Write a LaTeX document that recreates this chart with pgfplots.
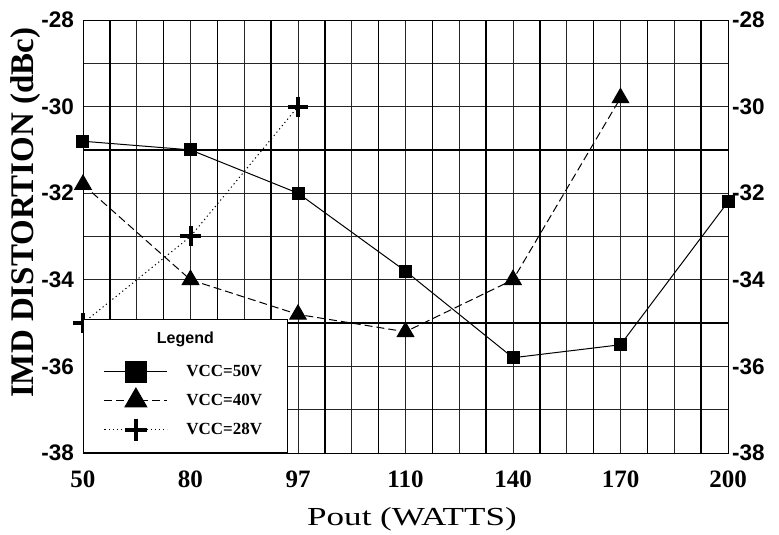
\documentclass[border=0pt]{standalone}
\usepackage{fontspec}
\setmainfont{Liberation Serif}
\newfontfamily\arialf{Liberation Sans}
\newfontfamily\widef[FakeStretch=1.35]{Liberation Serif}
\usepackage{pgfplots}
\pgfplotsset{compat=1.18}
\begin{document}
\begin{tikzpicture}
\useasboundingbox (-83pt,-82pt) rectangle (696pt,453pt);
\begin{axis}[
 at={(0pt,0pt)}, anchor=south west,
 scale only axis, width=645pt, height=433pt,
 xmin=0, xmax=6, ymin=-38, ymax=-28,
 clip=false,
 xtick={0,1,2,3,4,5,6}, xticklabels={50,80,97,110,140,170,200},
 ytick={-38,-36,-34,-32,-30,-28}, yticklabels={-38,-36,-34,-32,-30,-28},
 minor xtick={0.5,1.5,2.5,3.5,4.5,5.5},
 minor ytick={-37,-35,-33,-31,-29},
 extra x ticks={0.25,0.75,1.25,1.75,2.25,2.75,3.25,3.75,4.25,4.75,5.25,5.75},
 extra x tick labels={},
 extra y ticks={-35,-31}, extra y tick labels={},
 extra x tick style={grid=major, major grid style={line width=1.6pt, black}},
 extra y tick style={grid=major, major grid style={line width=1.6pt, black}},
 grid=both,
 major grid style={line width=0.8pt, black!85},
 minor grid style={line width=0.8pt, black!85},
 major tick length=0pt, minor tick length=0pt,
 axis line style={line width=0.8pt},
 xticklabel style={anchor=base, yshift=-35pt, inner sep=0pt, font=\bfseries\fontsize{25}{25}\selectfont},
 yticklabel style={anchor=east, inner sep=0pt, xshift=-9pt, font=\arialf\bfseries\fontsize{22.5}{22.5}\selectfont},
 xlabel={Pout (WATTS)},
 xlabel style={at={(axis description cs:0.51,0)}, anchor=base, yshift=-72pt, inner sep=0pt, font=\widef\fontsize{26}{26}\selectfont},
 ylabel={IMD DISTORTION (dBc)},
 ylabel style={at={(axis description cs:-0.0884,0.555)}, anchor=center, inner sep=0pt, font=\bfseries\fontsize{33}{33}\selectfont},
 legend image code/.code={
   \path[draw=none,fill=none] (0pt,-14.5pt) rectangle (103pt,14.5pt);
   \draw[mark repeat=2,mark phase=2,#1] plot coordinates {(21pt,0pt) (52.5pt,0pt) (84pt,0pt)};
 },
 legend style={at={(0,0)}, anchor=south west, draw=black, line width=0.8pt, fill=white,
   inner xsep=0pt, inner ysep=8.5pt, row sep=0pt,
   nodes={inner sep=0pt, text width=101pt, align=left, line width=0.8pt},
   font=\bfseries\fontsize{17}{17}\selectfont,
   label={[anchor=base, inner sep=0pt, yshift=-24pt, font=\arialf\bfseries\fontsize{16}{16}\selectfont]north:Legend}},
 legend cell align=left,
]
\addlegendimage{empty legend}
\addlegendentry{\rule[-15.5pt]{0pt}{43pt}}
\addplot[black, line width=1pt, mark=square*, mark size=6pt, mark options={solid},
  legend image post style={mark size=10.5pt}]
  coordinates {(0,-30.8)(1,-31.0)(2,-32.0)(3,-33.8)(4,-35.8)(5,-35.5)(6,-32.2)};
\addlegendentry{VCC=50V}
\addplot[black, line width=1pt, dash pattern=on 8pt off 4pt, mark=triangle*, mark size=9.5pt, mark options={solid},
  legend image post style={mark size=12.5pt}]
  coordinates {(0,-31.8)(1,-34.0)(2,-34.8)(3,-35.2)(4,-34.0)(5,-29.8)};
\addlegendentry{VCC=40V}
\addplot[black, line width=1pt, dash pattern=on 1.2pt off 3pt, mark=+, mark size=10pt, mark options={solid, line width=4pt},
  legend image post style={mark size=11pt}]
  coordinates {(0,-35.0)(1,-33.0)(2,-30.0)};
\addlegendentry{VCC=28V}
\end{axis}
\begin{axis}[
 at={(0pt,0pt)}, anchor=south west,
 scale only axis, width=645pt, height=433pt,
 xmin=0, xmax=6, ymin=-38, ymax=-28,
 hide x axis, axis y line*=right,
 ytick={-38,-36,-34,-32,-30,-28}, yticklabels={-38,-36,-34,-32,-30,-28},
 major tick length=0pt,
 y axis line style={line width=0.8pt},
 yticklabel style={anchor=west, inner sep=0pt, xshift=4pt, font=\arialf\bfseries\fontsize{22.5}{22.5}\selectfont},
]
\end{axis}
\end{tikzpicture}
\end{document}
